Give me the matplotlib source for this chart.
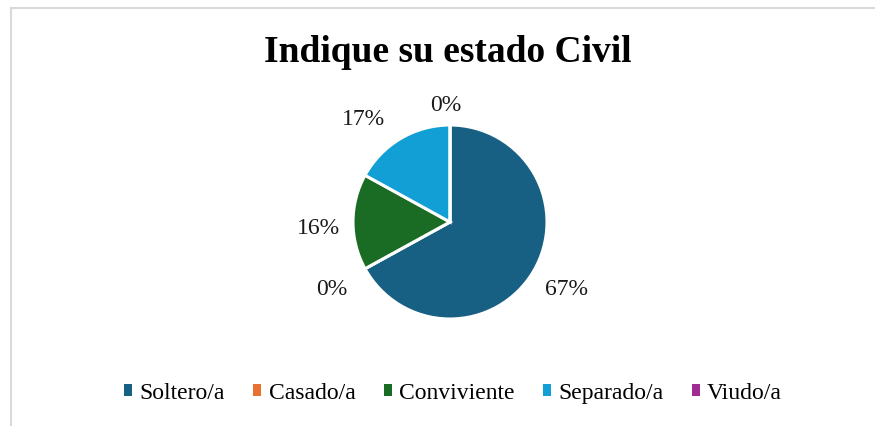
import numpy as np
import matplotlib.pyplot as plt
from matplotlib.patches import Patch
from matplotlib.lines import Line2D

plt.rcParams['font.family'] = ['Liberation Serif', 'DejaVu Serif']

# Data
categories = ['Soltero/a', 'Casado/a', 'Conviviente', 'Separado/a', 'Viudo/a']
values = [67, 0, 16, 17, 0]
colors = ['#176083', '#e97132', '#1a6b24', '#119fd6', '#a02b93']

# label placement tweaks (angle offset in degrees, radial distance)
label_shift = [2, -0.5, 1, 8.5, 2]
label_dist = [1.37, 1.39, 1.36, 1.41, 1.24]

W, H = 875, 427
fig = plt.figure(figsize=(W / 100, H / 100), dpi=100)

# chart frame (only top and left edges visible in the crop)
fig.add_artist(Line2D([11 / W, 11 / W], [0, 1 - 9 / H], color='#d9d9d9', lw=1.5))
fig.add_artist(Line2D([11 / W, 1], [1 - 9 / H, 1 - 9 / H], color='#d9d9d9', lw=1.5))

cx, cy, size = 450, H - 223, 300
ax = fig.add_axes([(cx - size / 2) / W, (cy - size / 2) / H, size / W, size / H])

wedges, _ = ax.pie(values, colors=colors, startangle=90, counterclock=False,
                   radius=0.97, wedgeprops=dict(edgecolor='white', linewidth=2.2))
ax.set_xlim(-1.5, 1.5)
ax.set_ylim(-1.5, 1.5)
ax.set_aspect('equal')
ax.axis('off')

total = sum(values)
start = 90.0
for v, sh, d in zip(values, label_shift, label_dist):
    span = 360.0 * v / total
    mid = np.deg2rad(start - span / 2 + sh)
    start -= span
    ax.text(d * 0.97 * np.cos(mid), d * 0.97 * np.sin(mid) - 0.03, f'{round(100 * v / total)}%',
            ha='center', va='center', fontsize=17, color='#1a1a1a')

fig.text(448 / W, 1 - 52 / H, 'Indique su estado Civil', ha='center', va='center',
         fontsize=27, fontweight='bold')

handles = [Patch(facecolor=c, edgecolor='none') for c in colors]
fig.legend(handles, categories, loc='center', bbox_to_anchor=(453 / W, 1 - 394 / H),
           ncol=5, frameon=False, fontsize=17, handlelength=0.35, handleheight=0.35,
           handletextpad=0.3, columnspacing=1.2)

fig.savefig('out.png', dpi=100)
